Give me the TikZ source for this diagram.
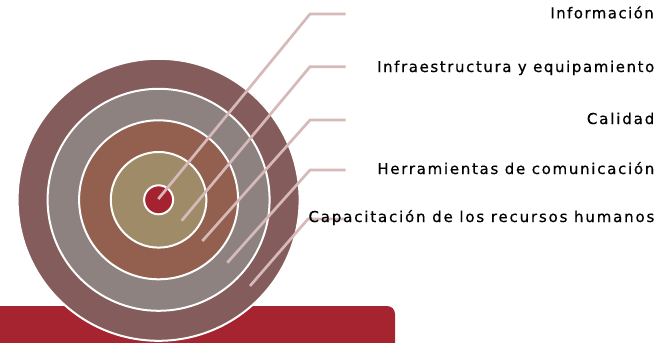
\documentclass[tikz,border=0pt]{standalone}
\usepackage{fontspec}
\setmainfont{DejaVu Sans}[FakeBold=0.6]
\definecolor{ringA}{RGB}{133,92,92}
\definecolor{ringB}{RGB}{142,130,129}
\definecolor{ringC}{RGB}{147,96,79}
\definecolor{ringD}{RGB}{160,139,105}
\definecolor{ringE}{RGB}{165,35,48}
\definecolor{barred}{RGB}{165,36,48}
\definecolor{leader}{RGB}{214,186,186}
\tikzset{
  ring/.style={circle, draw=white, line width=2pt, inner sep=0pt, outer sep=0pt},
  leaderline/.style={draw=leader, line width=2.7pt, line cap=butt, line join=miter},
  lbl/.style={anchor=base east, inner sep=0pt, text=black,
    font=\fontsize{15}{18}\selectfont\addfontfeature{LetterSpace=#1}}
}
\begin{document}
\begin{tikzpicture}[x=1pt,y=-1pt]
\useasboundingbox (0,0) rectangle (662,343);
% bottom bar
\fill[barred, rounded corners=8pt] (-20,306) rectangle (395,360);
% target rings
\coordinate (c) at (158.6,199.8);
\node[ring, fill=ringA, minimum size=282pt] (r1) at (c) {};
\node[ring, fill=ringB, minimum size=222pt] (r2) at (c) {};
\node[ring, fill=ringC, minimum size=159pt] (r3) at (c) {};
\node[ring, fill=ringD, minimum size=95.6pt] (r4) at (c) {};
\node[ring, fill=ringE, minimum size=29pt] (r5) at (c) {};
% leader line coordinates
\coordinate (e1) at (158.3,199);
\coordinate (e2) at (181.7,220.7);
\coordinate (e3) at (202.3,241);
\coordinate (e4) at (227.3,262.7);
\coordinate (e5) at (250,286);
\coordinate (b1) at (310,14);
\coordinate (b2) at (310,66.7);
\coordinate (b3) at (310,120);
\coordinate (b4) at (310,170);
\coordinate (b5) at (308,219);
\coordinate (t1) at (345.5,14);
\coordinate (t2) at (345.5,66.7);
\coordinate (t3) at (345.5,120);
\coordinate (t4) at (345.5,170);
\coordinate (t5) at (345.5,219);
\draw[leaderline] (e1) -- (b1) -- (t1);
\draw[leaderline] (e2) -- (b2) -- (t2);
\draw[leaderline] (e3) -- (b3) -- (t3);
\draw[leaderline] (e4) -- (b4) -- (t4);
\draw[leaderline] (e5) -- (b5) -- (t5);
% labels
\node[lbl=9.5] (l1) at (654,18.3) {Información};
\node[lbl=10.6] (l2) at (654.5,72) {Infraestructura y equipamiento};
\node[lbl=12.4] (l3) at (654.5,124) {Calidad};
\node[lbl=11.4] (l4) at (654.5,174) {Herramientas de comunicación};
\node[lbl=12.2] (l5) at (654.5,222) {Capacitación de los recursos humanos};
\end{tikzpicture}
\end{document}
